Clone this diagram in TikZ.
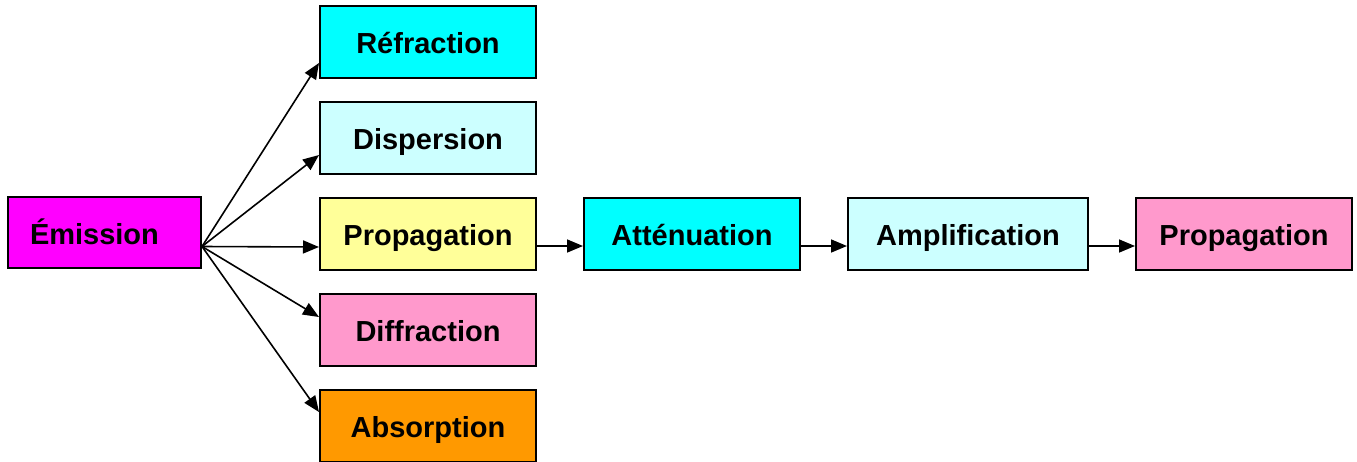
\documentclass[tikz,border=0pt]{standalone}
\usepackage{fontspec}
\setmainfont{Liberation Sans}
\usetikzlibrary{arrows.meta}
\definecolor{cCyan}{HTML}{00FFFF}
\definecolor{cLightCyan}{HTML}{CCFFFF}
\definecolor{cYellow}{HTML}{FFFF99}
\definecolor{cPink}{HTML}{FF99CC}
\definecolor{cOrange}{HTML}{FF9900}
\definecolor{cMagenta}{HTML}{FF00FF}
\tikzset{
  box/.style={draw=black, line width=2pt, minimum height=72pt, minimum width=216pt,
    inner sep=0pt, text height=29pt, text depth=6pt, font=\fontsize{29}{34}\selectfont\bfseries},
  arr/.style={line width=1.6pt, -{Triangle[length=16pt,width=13pt]}}
}
\begin{document}
\begin{tikzpicture}[x=1pt,y=-1pt]
\useasboundingbox (0,0) rectangle (1357,461);
\clip (0,0) rectangle (1357,461);
\node[box, fill=cMagenta, minimum width=193pt, minimum height=71pt, text width=149pt, inner xsep=22pt, align=left] (emi) at (104.5,232.5) {Émission};
\node[box, fill=cCyan] (ref) at (428,42) {Réfraction};
\node[box, fill=cLightCyan] (dis) at (428,138) {Dispersion};
\node[box, fill=cYellow] (prop) at (428,234) {Propagation};
\node[box, fill=cPink] (dif) at (428,330) {Diffraction};
\node[box, fill=cOrange] (abs) at (428,426) {Absorption};
\node[box, fill=cCyan] (att) at (692,234) {Atténuation};
\node[box, fill=cLightCyan, minimum width=240pt] (amp) at (968,234) {Amplification};
\node[box, fill=cPink] (prop2) at (1244,234) {Propagation};
\coordinate (src) at ([yshift=-14pt]emi.east);
\draw[arr] (src) -- ([yshift=-21pt]ref.west);
\draw[arr] (src) -- ([yshift=-17pt]dis.west);
\draw[arr] (src) -- ([yshift=-13pt]prop.west);
\draw[arr] (src) -- ([yshift=13pt]dif.west);
\draw[arr] (src) -- ([yshift=14pt]abs.west);
\draw[arr] ([yshift=-12pt]prop.east) -- ([yshift=-12pt]att.west);
\draw[arr] ([yshift=-12pt]att.east) -- ([yshift=-12pt]amp.west);
\draw[arr] ([yshift=-12pt]amp.east) -- ([yshift=-12pt]prop2.west);
\end{tikzpicture}
\end{document}
